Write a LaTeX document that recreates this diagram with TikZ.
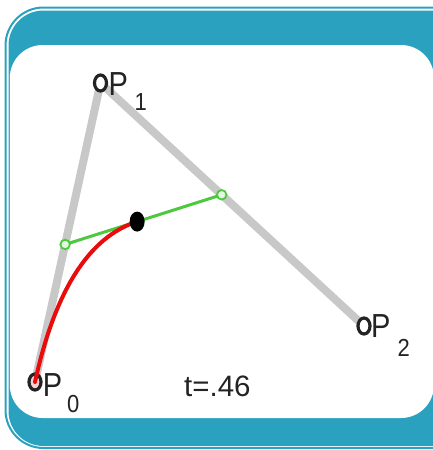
\documentclass[tikz,border=0pt]{standalone}
\usepackage{fontspec}
\usepackage{graphicx}
\setmainfont{Liberation Sans}
\usetikzlibrary{calc,shapes.geometric}
\definecolor{framec}{RGB}{42,161,191}
\definecolor{grayl}{RGB}{200,200,200}
\definecolor{greenl}{RGB}{78,200,62}
\definecolor{redl}{RGB}{232,12,12}
\definecolor{labc}{RGB}{35,35,35}
\newcommand{\tallP}[1]{\scalebox{1}[1.15]{#1}}
\newcommand{\tallS}[1]{\scalebox{1}[1.12]{#1}}
\tikzset{
  grayline/.style={draw=grayl, line width=8pt, line cap=butt},
  greenline/.style={draw=greenl, line width=3pt},
  redcurve/.style={draw=redl, line width=4pt, line cap=round},
  pmark/.style={ellipse, draw=labc, fill=white, line width=3.2pt, minimum width=12pt, minimum height=16pt, inner sep=0pt},
  gmark/.style={circle, draw=greenl, fill=greenl!15, line width=1.8pt, minimum size=9.5pt, inner sep=0pt},
  bdot/.style={ellipse, fill=black, minimum width=15pt, minimum height=20pt, inner sep=0pt},
  plab/.style={text=labc, inner sep=0pt, anchor=base west, font=\fontsize{29}{32}\selectfont},
  slab/.style={text=labc, inner sep=0pt, anchor=base west, font=\fontsize{22}{25}\selectfont},
  tlab/.style={text=labc, inner sep=0pt, anchor=base west, font=\fontsize{29.5}{34}\selectfont}
}
\begin{document}
\begin{tikzpicture}[x=1pt,y=-1pt]
\useasboundingbox (0,0) rectangle (433,450);
\clip (0,0) rectangle (433,450);
% frame
\draw[framec, line width=2pt, rounded corners=38pt] (5.5,7.5) rectangle (480,448);
\fill[framec, rounded corners=35pt] (8.5,10.5) rectangle (477,446);
\fill[white, rounded corners=33pt] (9.8,45) rectangle (434,418);
% points
\coordinate (P0) at (35,382);
\coordinate (P1) at (100.5,83);
\coordinate (P2) at (364,326);
\coordinate (Q0) at ($(P0)!0.46!(P1)$);
\coordinate (Q1) at ($(P1)!0.46!(P2)$);
\coordinate (B) at ($(Q0)!0.46!(Q1)$);
\coordinate (C1) at ($(P0)!0.6667!(Q0)$);
\coordinate (C2) at ($(B)!0.6667!(Q0)$);
% control polygon
\draw[grayline] (P0) -- (P1) -- (P2);
% green segment
\draw[greenline] (Q0) -- (Q1);
% markers
\node[pmark, fill=redl!20] (m0) at (P0) {};
\node[pmark] (m1) at (P1) {};
\node[pmark] (m2) at (P2) {};
\node[gmark] (g0) at (Q0) {};
\node[gmark] (g1) at (Q1) {};
% red curve
\draw[redcurve] (P0) .. controls (C1) and (C2) .. (B);
\node[bdot] (bd) at (B) {};
% labels
\node[plab] (l1) at (108.4,95) {\tallP{P}};
\node[slab] (s1) at (134.3,110) {\tallS{1}};
\node[plab] (l2) at (371,337) {\tallP{P}};
\node[slab] (s2) at (397.3,356) {\tallS{2}};
\node[plab] (l0) at (42.7,396) {\tallP{P}};
\node[slab] (s0) at (67,412) {\tallS{0}};
\node[tlab] (tv) at (184,396.5) {t=.46};
\end{tikzpicture}
\end{document}
